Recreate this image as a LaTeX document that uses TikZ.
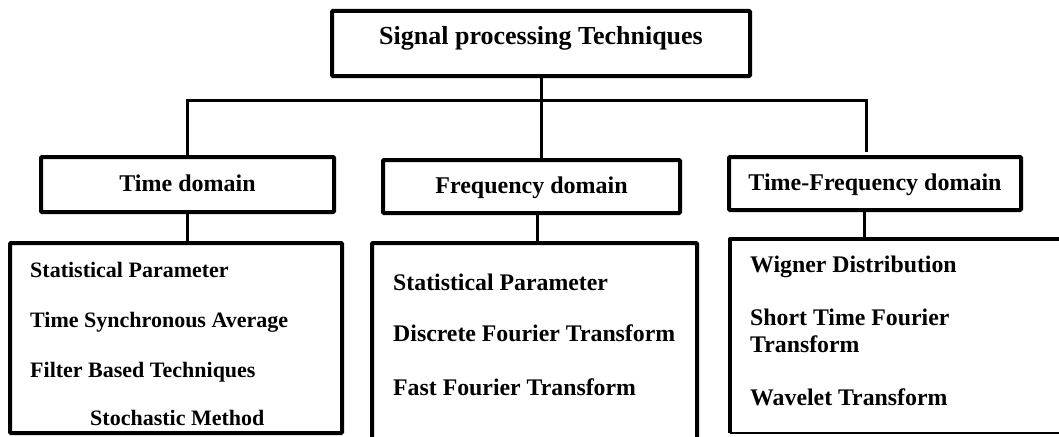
\documentclass[tikz,border=0pt]{standalone}
\usepackage{fontspec}
\setmainfont{Liberation Serif}
\begin{document}
\begin{tikzpicture}[x=1pt,y=-1pt,
  box/.style={draw, line width=4pt, rounded corners=1pt, inner sep=0pt, text height=17pt, text depth=4pt, font=\bfseries\fontsize{24}{27}\selectfont},
  conn/.style={line width=3pt},
  item/.style={anchor=base west, inner sep=0pt, font=\bfseries\fontsize{22}{26}\selectfont},
  itemb/.style={item, font=\bfseries\fontsize{23.8}{27}\selectfont}]
\useasboundingbox (0,0) rectangle (1059,436);
\clip (0,0) rectangle (1059,436);
% boxes
\node[box, minimum width=418pt, minimum height=65pt, text height=10pt, text depth=7pt, font=\bfseries\fontsize{26}{30}\selectfont] (top) at (541,43.5) {Signal processing Techniques};
\node[box, minimum width=293pt, minimum height=55pt] (time) at (187.5,184.5) {Time domain};
\node[box, minimum width=297pt, minimum height=53pt] (freq) at (531.5,186.5) {Frequency domain};
\node[box, minimum width=292pt, minimum height=53pt] (tf) at (875,183.5) {Time-Frequency domain};
\node[box, minimum width=332pt, minimum height=190pt] (timec) at (176,338) {};
\node[box, minimum width=325pt, minimum height=210pt] (freqc) at (534.5,348) {};
\node[inner sep=0pt, outer sep=0pt, minimum width=340pt, minimum height=194pt] (tfc) at (900,336) {};
\draw[line width=4pt, line join=round] (tfc.south west) -- (tfc.north west) -- (tfc.north east);
\draw[line width=1.5pt] (tfc.south west) -- (tfc.south east);
% connectors
\coordinate (tfbus) at (866,100);
\coordinate (tfend) at (866,152);
\coordinate (fx) at (537,0);
\coordinate (tx) at (864,0);
\draw[conn] (top.south) -- (top.south |- freq.north);
\draw[conn] (time.north) |- (tfbus) -- (tfend);
\draw[conn] (time.south) -- (time.south |- timec.north);
\draw[conn] (fx |- freq.south) -- (fx |- freqc.north);
\draw[conn] (tx |- tf.south) -- (tx |- tfc.north);
% items
\node[item] (t1) at (30,277) {Statistical Parameter};
\node[item] (t2) at (30,327.5) {Time Synchronous Average};
\node[item] (t3) at (30,377) {Filter Based Techniques};
\node[item] (t4) at (90,425) {Stochastic Method};
\node[itemb] (f1) at (393,290) {Statistical Parameter};
\node[itemb] (f2) at (393,341) {Discrete Fourier Transform};
\node[itemb] (f3) at (393,395) {Fast Fourier Transform};
\node[itemb] (w1) at (750,272) {Wigner Distribution};
\node[itemb] (w2) at (750,325) {Short Time Fourier};
\node[itemb] (w3) at (750,352) {Transform};
\node[itemb] (w4) at (750,405) {Wavelet Transform};
\end{tikzpicture}
\end{document}
